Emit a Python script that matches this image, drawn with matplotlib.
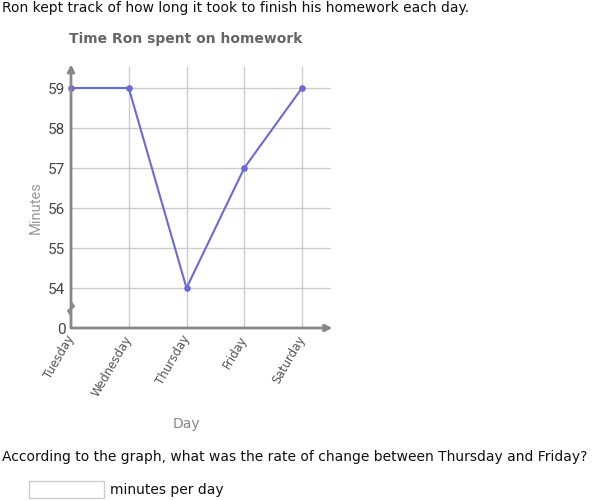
import matplotlib
matplotlib.use('Agg')
import matplotlib.pyplot as plt
import matplotlib.transforms as mtransforms
from matplotlib.patches import Rectangle

days = ['Tuesday', 'Wednesday', 'Thursday', 'Friday', 'Saturday']
minutes = [59, 59, 54, 57, 59]
y_ticks = [54, 55, 56, 57, 58, 59]
y_base = 53  # shown as "0" below the axis break

line_color = '#6a6ad8'
grid_color = '#cccccc'
axis_color = '#888888'

fig = plt.figure(figsize=(5.94, 5.0), dpi=100)
ax = fig.add_axes([71 / 594, 1 - 328 / 500, 260 / 594, 261 / 500])

x = list(range(len(days)))
ax.plot(x, minutes, color=line_color, lw=1.5, marker='o', ms=3.8, zorder=3, clip_on=False)

ax.set_xlim(0, 260 / 57.75)
ax.set_ylim(y_base, y_base + 261 / 40)

# grid
for yv in y_ticks:
    ax.axhline(yv, color=grid_color, lw=1, zorder=1)
for xv in x[1:]:
    ax.axvline(xv, color=grid_color, lw=1, zorder=1)

for s in ax.spines.values():
    s.set_visible(False)

# axes with arrows
ax.annotate('', xy=(0, 1.01), xytext=(0, 0), xycoords='axes fraction',
            arrowprops=dict(arrowstyle='-|>', color=axis_color, lw=2, mutation_scale=10,
                            shrinkA=0, shrinkB=0))
ax.annotate('', xy=(1.005, 0), xytext=(0, 0), xycoords='axes fraction',
            arrowprops=dict(arrowstyle='-|>', color=axis_color, lw=2, mutation_scale=10,
                            shrinkA=0, shrinkB=0))

# break mark on y axis
ax.plot([0, 0.05, -0.05, 0], [53.65, 53.54, 53.43, 53.32], color=axis_color, lw=1.6,
        clip_on=False, zorder=4)

ax.set_yticks([y_base] + y_ticks)
ax.set_yticklabels(['0'] + [str(v) for v in y_ticks], family='Roboto', fontsize=11, color='#444444')
ax.set_xticks(x)
ax.set_xticklabels(days, rotation=60, ha='right', va='center', rotation_mode='anchor',
                   fontsize=8.5, color='#555555')
shift = mtransforms.ScaledTranslation(-2 / 100, -4 / 100, fig.dpi_scale_trans)
for lab in ax.get_xticklabels():
    lab.set_transform(lab.get_transform() + shift)
ax.tick_params(axis='both', length=0)
ax.tick_params(axis='y', pad=4)
ax.tick_params(axis='x', pad=6)

ax.set_ylabel('Minutes', family='Roboto', fontsize=10.5, color='#999999')
ax.yaxis.set_label_coords(-0.108, (328 - 208) / 261)

fig.text(2 / 594, 1 - 8 / 500, 'Ron kept track of how long it took to finish his homework each day.',
         fontsize=10, va='center', ha='left', color='#111111')
fig.text(186 / 594, 1 - 39 / 500, 'Time Ron spent on homework', fontweight='bold',
         fontsize=10, va='center', ha='center', color='#666666')
fig.text(186 / 594, 1 - 424 / 500, 'Day', fontsize=10, va='center', ha='center', color='#888888')
fig.text(2 / 594, 1 - 457 / 500,
         'According to the graph, what was the rate of change between Thursday and Friday?',
         fontsize=10, va='center', ha='left', color='#111111')
fig.patches.append(Rectangle((29 / 594, 1 - 498 / 500), 75 / 594, 17 / 500,
                             transform=fig.transFigure, fill=False, edgecolor='#cccccc', lw=1))
fig.text(110 / 594, 1 - 490 / 500, 'minutes per day', fontsize=10, va='center', ha='left',
         color='#111111')

fig.savefig('out.png', dpi=100)
